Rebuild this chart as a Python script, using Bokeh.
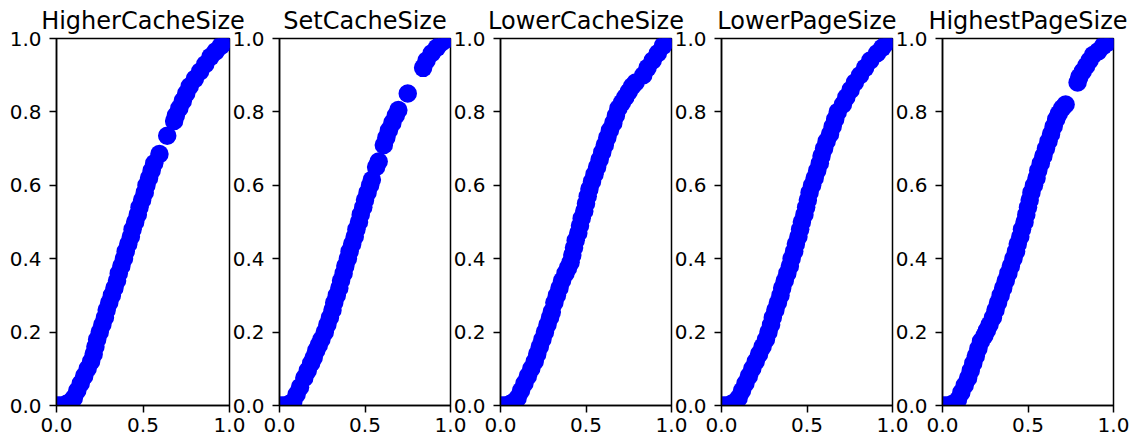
from bokeh.plotting import figure
from bokeh.layouts import row
from bokeh.models import Range1d, FixedTicker, PrintfTickFormatter
from bokeh.embed import file_html
from bokeh.resources import INLINE

titles = ["HigherCacheSize", "SetCacheSize", "LowerCacheSize", "LowerPageSize", "HighestPageSize"]
x_ticks = [0.0, 0.5, 1.0]
x_tick_labels = ["0.0", "0.5", "1.0"]
y_ticks = [0.0, 0.2, 0.4, 0.6, 0.8, 1.0]
y_tick_labels = ["0.0", "0.2", "0.4", "0.6", "0.8", "1.0"]

higher_cache_x = [0.0, 0.02, 0.04, 0.06, 0.08, 0.10, 0.12, 0.14, 0.16, 0.18, 0.20, 0.215, 0.225, 0.235, 0.25,
                  0.265, 0.28, 0.29, 0.305, 0.32, 0.335, 0.35, 0.36, 0.375, 0.39, 0.40, 0.415, 0.43, 0.44, 0.455,
                  0.47, 0.48, 0.495, 0.51, 0.52, 0.535, 0.55, 0.565, 0.595, 0.64, 0.68, 0.69, 0.71, 0.73, 0.75,
                  0.77, 0.80, 0.83, 0.86, 0.89, 0.92, 0.95, 0.98, 1.0]
higher_cache_y = [0.0, 0.0, 0.0, 0.005, 0.01, 0.02, 0.04, 0.06, 0.08, 0.10, 0.12, 0.14, 0.16, 0.18, 0.20,
                  0.22, 0.24, 0.26, 0.28, 0.30, 0.32, 0.34, 0.36, 0.38, 0.40, 0.42, 0.44, 0.46, 0.48, 0.50,
                  0.52, 0.54, 0.56, 0.58, 0.60, 0.62, 0.64, 0.66, 0.685, 0.735, 0.775, 0.79, 0.81, 0.83, 0.85,
                  0.87, 0.89, 0.91, 0.93, 0.95, 0.965, 0.98, 0.99, 1.0]

set_cache_x = [0.0, 0.02, 0.04, 0.06, 0.08, 0.10, 0.12, 0.145, 0.165, 0.185, 0.20, 0.215, 0.23, 0.245, 0.265,
               0.28, 0.295, 0.31, 0.32, 0.335, 0.35, 0.36, 0.375, 0.385, 0.40, 0.41, 0.425, 0.44, 0.45, 0.465,
               0.475, 0.49, 0.50, 0.515, 0.53, 0.54, 0.565, 0.58, 0.61, 0.625, 0.64, 0.66, 0.68, 0.695, 0.75,
               0.84, 0.86, 0.89, 0.92, 0.95, 0.98, 1.0]
set_cache_y = [0.0, 0.0, 0.0, 0.005, 0.01, 0.03, 0.05, 0.075, 0.095, 0.115, 0.13, 0.15, 0.165, 0.18, 0.20,
               0.22, 0.24, 0.26, 0.28, 0.30, 0.32, 0.34, 0.36, 0.38, 0.40, 0.42, 0.44, 0.46, 0.48, 0.50,
               0.52, 0.54, 0.56, 0.58, 0.60, 0.615, 0.65, 0.665, 0.71, 0.73, 0.75, 0.77, 0.79, 0.805, 0.85,
               0.92, 0.94, 0.96, 0.975, 0.99, 1.0, 1.0]

lower_cache_x = [0.0, 0.02, 0.04, 0.06, 0.08, 0.10, 0.12, 0.14, 0.16, 0.18, 0.20, 0.215, 0.23, 0.245, 0.26,
                 0.275, 0.29, 0.30, 0.315, 0.33, 0.345, 0.36, 0.38, 0.395, 0.41, 0.42, 0.43, 0.44, 0.455, 0.465,
                 0.475, 0.49, 0.50, 0.51, 0.52, 0.535, 0.55, 0.565, 0.58, 0.595, 0.61, 0.625, 0.64, 0.66, 0.675,
                 0.69, 0.71, 0.73, 0.75, 0.77, 0.79, 0.835, 0.86, 0.89, 0.92, 0.95, 0.98, 1.0]
lower_cache_y = [0.0, 0.0, 0.0, 0.005, 0.01, 0.02, 0.04, 0.06, 0.08, 0.10, 0.12, 0.14, 0.16, 0.18, 0.20,
                 0.22, 0.24, 0.255, 0.28, 0.30, 0.32, 0.34, 0.36, 0.375, 0.39, 0.41, 0.43, 0.45, 0.47, 0.49,
                 0.51, 0.53, 0.55, 0.57, 0.59, 0.61, 0.63, 0.65, 0.67, 0.69, 0.71, 0.73, 0.75, 0.77, 0.79,
                 0.81, 0.825, 0.84, 0.855, 0.87, 0.88, 0.90, 0.92, 0.94, 0.96, 0.98, 0.995, 1.0]

lower_page_x = [0.0, 0.02, 0.04, 0.06, 0.08, 0.10, 0.12, 0.14, 0.16, 0.18, 0.20, 0.22, 0.24, 0.26, 0.275,
                0.29, 0.30, 0.315, 0.33, 0.345, 0.355, 0.37, 0.385, 0.40, 0.41, 0.425, 0.435, 0.45, 0.46, 0.47,
                0.485, 0.495, 0.505, 0.515, 0.53, 0.545, 0.56, 0.575, 0.585, 0.60, 0.615, 0.635, 0.65, 0.665,
                0.68, 0.71, 0.73, 0.755, 0.78, 0.81, 0.84, 0.87, 0.91, 0.94, 0.97, 1.0]
lower_page_y = [0.0, 0.0, 0.0, 0.005, 0.01, 0.02, 0.04, 0.06, 0.08, 0.10, 0.12, 0.14, 0.16, 0.18, 0.20,
                0.22, 0.24, 0.26, 0.28, 0.30, 0.32, 0.34, 0.36, 0.38, 0.40, 0.42, 0.44, 0.46, 0.48, 0.50,
                0.52, 0.54, 0.56, 0.58, 0.60, 0.62, 0.64, 0.66, 0.68, 0.70, 0.72, 0.74, 0.76, 0.78,
                0.80, 0.82, 0.84, 0.86, 0.88, 0.90, 0.92, 0.94, 0.96, 0.975, 0.99, 1.0]

highest_page_x = [0.0, 0.02, 0.04, 0.06, 0.09, 0.11, 0.13, 0.15, 0.165, 0.18, 0.195, 0.21, 0.225, 0.245, 0.26,
                  0.275, 0.295, 0.31, 0.325, 0.34, 0.355, 0.37, 0.385, 0.40, 0.415, 0.43, 0.44, 0.455, 0.465,
                  0.48, 0.49, 0.50, 0.51, 0.52, 0.535, 0.55, 0.56, 0.575, 0.59, 0.605, 0.62, 0.635, 0.65, 0.665,
                  0.68, 0.70, 0.72, 0.79, 0.80, 0.82, 0.84, 0.86, 0.88, 0.91, 0.94, 0.97, 1.0]
highest_page_y = [0.0, 0.0, 0.0, 0.005, 0.015, 0.035, 0.055, 0.075, 0.095, 0.115, 0.135, 0.155, 0.175, 0.19, 0.205,
                  0.22, 0.24, 0.26, 0.28, 0.30, 0.32, 0.34, 0.36, 0.38, 0.40, 0.42, 0.44, 0.46, 0.48,
                  0.50, 0.52, 0.54, 0.56, 0.58, 0.60, 0.62, 0.64, 0.66, 0.68, 0.70, 0.72, 0.74, 0.76, 0.78,
                  0.795, 0.81, 0.82, 0.88, 0.895, 0.91, 0.925, 0.94, 0.955, 0.965, 0.98, 0.99, 1.0]

series = [
    (higher_cache_x, higher_cache_y),
    (set_cache_x, set_cache_y),
    (lower_cache_x, lower_cache_y),
    (lower_page_x, lower_page_y),
    (highest_page_x, highest_page_y),
]

FONT = "DejaVu Sans"
FRAME_W = 173
OVERLAP = 16
figs = []
n = len(titles)
for i, (title, (xs, ys)) in enumerate(zip(titles, series)):
    left = 56 if i == 0 else 48
    right = 19 if i == n - 1 else OVERLAP
    extra = {}
    if i > 0:
        extra["styles"] = {"margin-left": f"-{OVERLAP}px"}
    p = figure(width=left + FRAME_W + right, height=439,
               x_range=Range1d(0, 1), y_range=Range1d(0, 1),
               output_backend="svg", toolbar_location=None, title=title,
               min_border_left=left, min_border_right=right,
               min_border_top=37, min_border_bottom=34, **extra)
    p.border_fill_color = None
    p.background_fill_color = "white"
    p.outline_line_color = "black"
    p.outline_line_width = 1.5
    p.grid.visible = False

    p.title.align = "center"
    p.title.text_font = FONT
    p.title.text_font_size = "24px"
    p.title.text_font_style = "normal"
    p.title.text_color = "black"
    p.title.standoff = 8

    p.scatter(xs, ys, size=18.5, fill_color="#0000ff", line_color=None)

    for ax, ticks, labels, standoff in ((p.xaxis[0], x_ticks, x_tick_labels, 5),
                                        (p.yaxis[0], y_ticks, y_tick_labels, 8)):
        ax.ticker = FixedTicker(ticks=ticks)
        ax.formatter = PrintfTickFormatter(format="%.1f")
        ax.major_label_overrides = {t: l for t, l in zip(ticks, labels)}
        ax.major_label_text_font = FONT
        ax.major_label_text_font_size = "20px"
        ax.major_label_text_color = "black"
        ax.major_label_standoff = standoff
        ax.axis_line_color = "black"
        ax.axis_line_width = 1.5
        ax.major_tick_line_color = "black"
        ax.major_tick_line_width = 1.5
        ax.major_tick_out = 7
        ax.major_tick_in = 0
        ax.minor_tick_line_color = None
    figs.append(p)

layout = row(*figs, spacing=0)
open("out.html", "w").write(file_html(layout, INLINE))
